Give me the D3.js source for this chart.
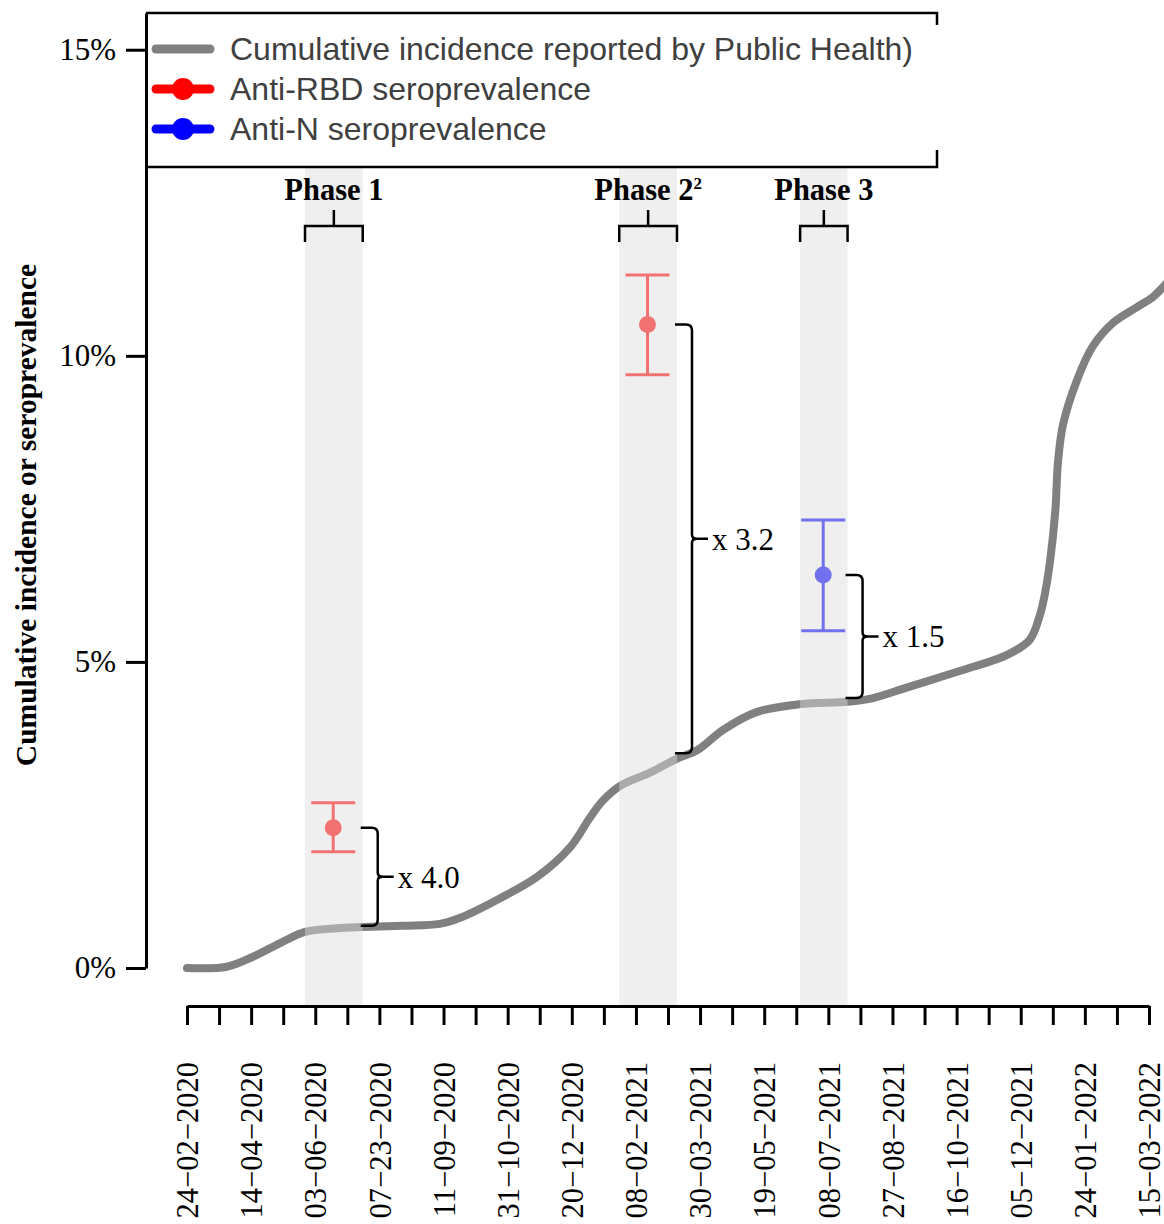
<!DOCTYPE html>
<html>
<head>
<meta charset="utf-8">
<script src="https://cdn.jsdelivr.net/npm/d3@7"></script>
<style>
  body { margin: 0; background: #fff; }
  svg { display: block; }
  .serif { font-family: "Liberation Serif", "Times New Roman", serif; }
  .axis path, .axis line { stroke: #000; stroke-width: 3; }
  .axis text { font-family: "Liberation Serif", "Times New Roman", serif; font-size: 31px; fill: #000; }
</style>
</head>
<body>
<script>
// -------------------------- data ---------------
var incidenceDates = ["2020-02-24","2020-03-26","2020-04-15","2020-05-07","2020-05-26","2020-06-20",
    "2020-07-10","2020-08-10","2020-09-08","2020-09-24","2020-10-27","2020-11-23","2020-12-19",
    "2021-01-03","2021-01-13","2021-01-27","2021-02-19","2021-03-12","2021-03-28","2021-04-17",
    "2021-05-13","2021-06-16","2021-07-23","2021-08-12","2021-09-07","2021-10-03","2021-10-29",
    "2021-11-24","2021-12-12","2021-12-20","2021-12-24","2021-12-28","2022-01-01","2022-01-03",
    "2022-01-07","2022-01-18","2022-01-30","2022-02-15","2022-03-06","2022-03-18","2022-03-31"];
var incidenceValues = [0.00,0.02,0.18,0.41,0.59,0.65,
    0.67,0.69,0.72,0.82,1.16,1.49,1.98,
    2.45,2.73,2.98,3.19,3.42,3.56,3.89,
    4.18,4.31,4.35,4.41,4.58,4.75,4.92,
    5.11,5.36,5.77,6.13,6.67,7.48,8.25,
    8.88,9.61,10.15,10.54,10.80,10.96,11.24];

var phaseNames = ["Phase 1", "Phase 2", "Phase 3"];
var phaseSup = ["", "2", ""];
var phaseStart = ["2020-05-26", "2021-01-26", "2021-06-16"];
var phaseEnd = ["2020-07-10", "2021-03-12", "2021-07-23"];

var seroDates = ["2020-06-17", "2021-02-17", "2021-07-04"];
var seroValues = [2.29, 10.51, 6.42];
var seroLow = [1.90, 9.69, 5.51];
var seroHigh = [2.70, 11.32, 7.32];
var seroType = ["RBD", "RBD", "N"];

var ratioLabels = ["x 4.0", "x 3.2", "x 1.5"];
var ratioBase = [0.69, 3.51, 4.41];   // reported incidence at end of each phase

var tickLabels = ["24\u221202\u22122020","14\u221204\u22122020","03\u221206\u22122020","07\u221223\u22122020",
    "11\u221209\u22122020","31\u221210\u22122020","20\u221212\u22122020","08\u221202\u22122021",
    "30\u221203\u22122021","19\u221205\u22122021","08\u221207\u22122021","27\u221208\u22122021",
    "16\u221210\u22122021","05\u221212\u22122021","24\u221201\u22122022","15\u221203\u22122022"];
var yTicks = [0, 5, 10, 15];

var legendLabels = ["Cumulative incidence reported by Public Health)", "Anti-RBD seroprevalence", "Anti-N seroprevalence"];
var legendColors = ["#808080", "#ff0000", "#0000ff"];
var pointColor = { RBD: "#f27272", N: "#7171f0" };

// -------------------------- setup ---------------
var parse = d3.utcParse("%Y-%m-%d");
var W = 1164, H = 1224;

var svg = d3.select("body").append("svg")
    .attr("width", W)
    .attr("height", H);

var x = d3.scaleUtc()
    .domain([parse("2020-02-24"), parse("2022-03-15")])
    .range([187, 1149]);
var y = d3.scaleLinear()
    .domain([0, 15.6])
    .range([968, 13]);

var legendBottom = 167, axisY = 1006;

// -------------------------- cumulative incidence line ---------------
var series = incidenceDates.map(function(d, i) { return { date: parse(d), value: incidenceValues[i] }; });
var valueline = d3.line()
    .curve(d3.curveCatmullRom.alpha(0.5))
    .x(function(d) { return x(d.date); })
    .y(function(d) { return y(d.value); });

svg.append("path")
    .attr("d", valueline(series))
    .attr("fill", "none")
    .attr("stroke", "#808080")
    .attr("stroke-width", 8)
    .attr("stroke-linecap", "round")
    .attr("stroke-linejoin", "round");

// -------------------------- phase bands (drawn over the line) ---------------
phaseNames.forEach(function(name, i) {
    var x0 = x(parse(phaseStart[i])), x1 = x(parse(phaseEnd[i]));
    svg.append("rect")
        .attr("x", x0).attr("y", legendBottom)
        .attr("width", x1 - x0).attr("height", axisY - legendBottom)
        .attr("fill", "rgb(220,220,220)")
        .attr("fill-opacity", 0.46);

    // bracket + label above the band
    var yb = 226;
    svg.append("path")
        .attr("d", "M" + x0 + "," + (yb + 16) + "V" + yb + "H" + x1 + "V" + (yb + 16) +
                   "M" + ((x0 + x1) / 2) + "," + yb + "V" + (yb - 16))
        .attr("fill", "none").attr("stroke", "#000").attr("stroke-width", 2.5);

    var t = svg.append("text")
        .attr("class", "serif")
        .attr("x", (x0 + x1) / 2)
        .attr("y", 200)
        .attr("text-anchor", "middle")
        .style("font-size", "30.5px")
        .style("font-weight", "bold")
        .text(name);
    if (phaseSup[i]) {
        t.append("tspan")
            .attr("dy", -11)
            .style("font-size", "17px")
            .text(phaseSup[i]);
    }
});

// -------------------------- seroprevalence points with error bars ---------------
seroDates.forEach(function(d, i) {
    var cx = x(parse(d)), col = pointColor[seroType[i]], cap = 22;
    var g = svg.append("g").attr("stroke", col).attr("stroke-width", 3);
    g.append("line").attr("x1", cx).attr("x2", cx).attr("y1", y(seroLow[i])).attr("y2", y(seroHigh[i]));
    g.append("line").attr("x1", cx - cap).attr("x2", cx + cap).attr("y1", y(seroLow[i])).attr("y2", y(seroLow[i]));
    g.append("line").attr("x1", cx - cap).attr("x2", cx + cap).attr("y1", y(seroHigh[i])).attr("y2", y(seroHigh[i]));
    svg.append("circle").attr("cx", cx).attr("cy", y(seroValues[i])).attr("r", 8.5).attr("fill", col);
});

// -------------------------- ratio brackets ---------------
ratioLabels.forEach(function(lab, i) {
    var x0 = x(parse(phaseEnd[i])) - 2;
    var xv = x0 + 17;
    var yT = y(seroValues[i]), yB = y(ratioBase[i]), yM = (yT + yB) / 2, r = 6;
    svg.append("path")
        .attr("d", "M" + x0 + "," + yT + "H" + (xv - r) + "Q" + xv + "," + yT + " " + xv + "," + (yT + r) +
                   "V" + (yM - 4) + "Q" + xv + "," + yM + " " + (xv + 5) + "," + yM +
                   "Q" + xv + "," + yM + " " + xv + "," + (yM + 4) +
                   "V" + (yB - r) + "Q" + xv + "," + yB + " " + (xv - r) + "," + yB + "H" + x0 +
                   "M" + xv + "," + yM + "H" + (xv + 16))
        .attr("fill", "none").attr("stroke", "#000").attr("stroke-width", 2.5);
    svg.append("text")
        .attr("class", "serif")
        .attr("x", xv + 20)
        .attr("y", yM)
        .attr("dy", "0.35em")
        .style("font-size", "31px")
        .text(lab);
});

// -------------------------- axes ---------------
var tickDates = d3.range(31).map(function(i) { return d3.utcDay.offset(parse("2020-02-24"), 25 * i); });
var xAxis = svg.append("g")
    .attr("class", "axis")
    .attr("transform", "translate(0," + axisY + ")")
    .call(d3.axisBottom(x)
        .tickValues(tickDates)
        .tickSize(19)
        .tickSizeOuter(0)
        .tickFormat(function(d, i) { return i % 2 === 0 ? tickLabels[i / 2] : ""; }));
xAxis.selectAll("text")
    .attr("transform", "rotate(-90)")
    .attr("x", -56)
    .attr("y", 0)
    .attr("dy", "0.35em")
    .style("font-size", "30.5px")
    .style("text-anchor", "end");

svg.append("g")
    .attr("class", "axis")
    .attr("transform", "translate(146,0)")
    .call(d3.axisLeft(y)
        .tickValues(yTicks)
        .tickSize(20)
        .tickSizeOuter(0)
        .tickPadding(10)
        .tickFormat(function(d) { return d + "%"; }));

// y axis title
svg.append("text")
    .attr("class", "serif")
    .attr("transform", "translate(36,515) rotate(-90)")
    .attr("text-anchor", "middle")
    .style("font-size", "29.5px")
    .style("font-weight", "bold")
    .text("Cumulative incidence or seroprevalence");

// -------------------------- legend ---------------
svg.append("path")
    .attr("d", "M146,13H937V25M146," + legendBottom + "H937V150")
    .attr("fill", "none").attr("stroke", "#000").attr("stroke-width", 2.5);

legendLabels.forEach(function(lab, i) {
    var ly = 49 + i * 40;
    svg.append("line")
        .attr("x1", 156).attr("x2", 210).attr("y1", ly).attr("y2", ly)
        .attr("stroke", legendColors[i]).attr("stroke-width", 9).attr("stroke-linecap", "round");
    if (i > 0) {
        svg.append("circle").attr("cx", 183).attr("cy", ly).attr("r", 11).attr("fill", legendColors[i]);
    }
    svg.append("text")
        .attr("x", 230).attr("y", ly)
        .attr("dy", "0.35em")
        .style("font-family", "'Liberation Sans', Arial, sans-serif")
        .style("font-size", "32px")
        .style("fill", "#404040")
        .text(lab);
});
</script>
</body>
</html>
